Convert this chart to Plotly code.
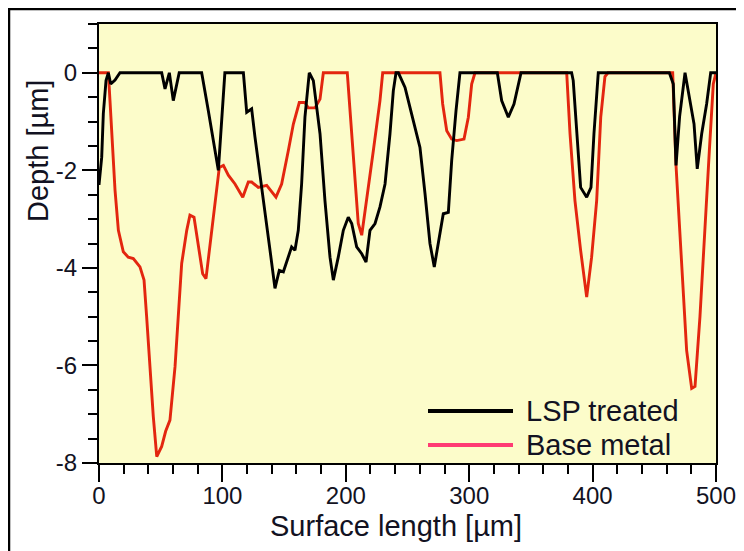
import plotly.graph_objects as go

# ---- data ----
lsp_x = [0, 2.2, 3.5, 5.7, 7.6, 9.5, 13, 17, 50.8, 53.5, 57, 60.2, 65, 83.2, 88.6, 92.6, 96.7, 102,
         117, 119.7, 123.7, 126.4, 130.5, 134.5, 138.6, 142.6, 146.1, 149.4, 153.4, 156.1, 158.8, 161.5,
         164.2, 166.9, 170.4, 173.7, 179.1, 183.1, 187.2, 189.9, 193.9, 198, 202, 204.8, 208.8, 212.9,
         216.4, 219.6, 223.7, 227.7, 231.8, 235.8, 238.5, 240.7, 242.6, 248, 252, 260.1, 264.2, 268.2,
         271.7, 275, 279, 283.1, 285.8, 289.3, 292.5, 322.8, 326.3, 331.7, 336.3, 342, 383, 384.3, 387.1,
         390.3, 395.2, 398.7, 401.1, 404.6, 462.2, 465.4, 467.6, 470.5, 474.9, 478.9, 482.2, 484.8, 488.4,
         492.4, 495.7, 500]
lsp_y = [-2.3, -1.73, -0.84, -0.16, 0, -0.23, -0.15, 0, 0, -0.33, 0, -0.57, 0, 0, -0.78, -1.39, -2.0, 0,
         0, -0.81, -0.74, -1.32, -2.14, -2.82, -3.64, -4.42, -4.05, -4.08, -3.78, -3.57, -3.64, -3.23,
         -2.28, -0.91, 0, -0.16, -1.25, -2.62, -3.78, -4.25, -3.78, -3.23, -2.96, -3.09, -3.57, -3.71,
         -3.88, -3.23, -3.09, -2.75, -2.28, -1.25, -0.37, 0, 0, -0.3, -0.71, -1.53, -2.48, -3.5,
         -3.98, -3.5, -2.89, -2.86, -1.8, -0.78, 0, 0, -0.57, -0.91, -0.64, 0, 0, -0.16, -1.25,
         -2.35, -2.55, -2.35, -1.25, 0, 0, -0.23, -1.9, -0.9, 0, -0.57, -1.05, -1.97, -1.25,
         -0.64, 0, 0]

base_x = [0, 7.6, 8.9, 11.1, 13, 15.7, 19.7, 23.7, 27.8, 33.2, 36.5, 38.6, 41.3, 44, 46.8, 50.8, 54, 57.5,
          61.6, 64.3, 67, 71.1, 73.7, 77, 80.5, 84, 86.7, 90, 94, 97.5, 100.8, 104.8, 110.2, 116.5, 121,
          123.7, 129.1, 135.9, 143.4, 148, 153.4, 157.5, 162.3, 166.9, 169.6, 175, 179.1, 181.8, 201.2,
          206.1, 210.1, 212.9, 216.9, 222.3, 227.7, 229.9, 276.3, 278.5, 281.8, 285.8, 289.9, 295.8,
          299.3, 302, 304.7, 379, 381.7, 385.7, 390.3, 395.2, 399.2, 403.3, 406.6, 410, 412.5, 464.9,
          467.6, 472.2, 476.2, 480.3, 483, 487, 491.1, 494.6, 497.8, 500]
base_y = [0, 0, -0.57, -1.46, -2.41, -3.23, -3.67, -3.78, -3.81, -3.98, -4.25, -5.0, -6.03, -7.05, -7.87,
          -7.66, -7.35, -7.12, -6.03, -4.87, -3.91, -3.23, -2.92, -2.96, -3.5, -4.12, -4.22, -3.5, -2.62,
          -1.94, -1.9, -2.1, -2.28, -2.55, -2.24, -2.24, -2.35, -2.31, -2.55, -2.28, -1.6, -1.05, -0.61,
          -0.61, -0.72, -0.72, -0.54, 0, 0, -1.6, -3.09, -3.33, -2.55, -1.6, -0.57, 0, 0, -0.64, -1.19,
          -1.36, -1.39, -1.36, -0.91, -0.23, 0, 0, -1.25, -2.62, -3.64, -4.6, -3.78, -2.62, -0.91,
          -0.08, 0, 0, -1.9, -3.98, -5.69, -6.47, -6.43, -5.0, -3.3, -1.6, -0.23, 0]

series_names = ["LSP treated", "Base metal"]
x_tick_vals = [0, 100, 200, 300, 400, 500]
x_tick_text = ["0", "100", "200", "300", "400", "500"]
y_tick_vals = [-8, -6, -4, -2, 0]
y_tick_text = ["-8", "-6", "-4", "-2", "0"]

TEXT = "#121222"
FONT = "Liberation Sans, Arial, sans-serif"
RED = "#e3260f"
PINK = "#ff3b74"

# page has an 8px body margin; figure is sized to fit the window
OFF = 8
W, H = 744 - OFF, 551 - OFF
PL, PR, PT, PB = 99, 716, 24, 463  # plot-area edges in page pixels
L, T = PL - OFF, PT - OFF
R, B = W - (PR - OFF), H - (PB - OFF)


def px(xp):
    return (xp - PL) / (PR - PL)


def py(yp):
    return (PB - yp) / (PB - PT)


fig = go.Figure()
fig.add_trace(go.Scatter(x=base_x, y=base_y, mode="lines", name=series_names[1],
                         line=dict(color=RED, width=2.9), showlegend=False))
fig.add_trace(go.Scatter(x=lsp_x, y=lsp_y, mode="lines", name=series_names[0],
                         line=dict(color="black", width=2.9), showlegend=False))

axis_common = dict(showline=True, linecolor="black", linewidth=2, mirror=True,
                   ticks="outside", tickcolor="black", tickwidth=2, showgrid=False, zeroline=False,
                   tickfont=dict(family=FONT, size=24, color=TEXT))

fig.update_xaxes(range=[0, 500], tickvals=x_tick_vals, ticktext=x_tick_text, ticklen=17,
                 ticklabelstandoff=-7,
                 minor=dict(dtick=20, ticklen=9, ticks="outside", tickcolor="black", tickwidth=2),
                 **axis_common)
fig.update_yaxes(range=[-8, 1], tickvals=y_tick_vals, ticktext=y_tick_text, ticklen=15,
                 minor=dict(dtick=0.5, ticklen=9, ticks="outside", tickcolor="black", tickwidth=2),
                 **axis_common)

shapes = [
    # outer frame
    dict(type="rect", xref="paper", yref="paper", x0=px(9), x1=px(760), y0=py(570), y1=py(9),
         line=dict(color="black", width=2.5), fillcolor="rgba(0,0,0,0)", layer="above"),
    # legend lines
    dict(type="line", xref="paper", yref="paper", x0=px(428), x1=px(513), y0=py(411), y1=py(411),
         line=dict(color="black", width=4)),
    dict(type="line", xref="paper", yref="paper", x0=px(428), x1=px(513), y0=py(445), y1=py(445),
         line=dict(color=PINK, width=4)),
]

annotations = [
    dict(text=series_names[0], xref="paper", yref="paper", x=px(524), y=py(411), xanchor="left",
         yanchor="middle", showarrow=False, font=dict(family=FONT, size=29, color=TEXT)),
    dict(text=series_names[1], xref="paper", yref="paper", x=px(524), y=py(445), xanchor="left",
         yanchor="middle", showarrow=False, font=dict(family=FONT, size=29, color=TEXT)),
    dict(text="Depth [µm]", xref="paper", yref="paper", x=px(38), y=py(151), xanchor="center",
         yanchor="middle", textangle=-90, showarrow=False, font=dict(family=FONT, size=29, color=TEXT)),
    dict(text="Surface length [µm]", xref="paper", yref="paper", x=px(396), y=py(526), xanchor="center",
         yanchor="middle", showarrow=False, font=dict(family=FONT, size=29, color=TEXT)),
]

fig.update_layout(
    width=W, height=H,
    margin=dict(l=L, r=R, t=T, b=B, autoexpand=False),
    paper_bgcolor="white",
    plot_bgcolor="#fcfcca",
    shapes=shapes,
    annotations=annotations,
    showlegend=False,
)

fig.write_html("out.html")
